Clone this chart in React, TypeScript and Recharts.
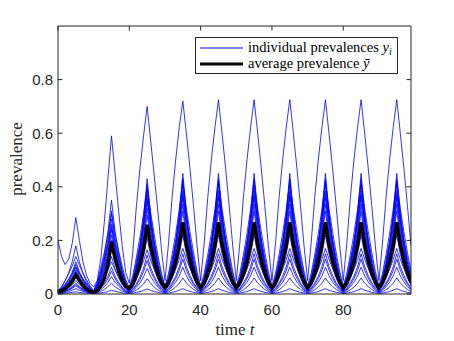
import React from 'react';
import { LineChart, Line, XAxis, YAxis, Legend, Label } from 'recharts';

// time grid of the simulation output (t = 0 .. 99)
const time = Array.from({ length: 100 }, (_, i) => i);

// individual prevalences (one row per 10-unit season)
const y01 = [
  0.2, 0.14, 0.11, 0.13, 0.19, 0.285, 0.2, 0.12, 0.07, 0.04, 0.026,
  0.05, 0.13, 0.27, 0.43, 0.59, 0.45, 0.31, 0.18, 0.08, 0.04,
  0.16, 0.33, 0.47, 0.59, 0.7, 0.57, 0.44, 0.31, 0.17, 0.05,
  0.19, 0.36, 0.5, 0.62, 0.72, 0.6, 0.47, 0.33, 0.18, 0.05,
  0.19, 0.36, 0.5, 0.62, 0.725, 0.6, 0.47, 0.33, 0.18, 0.05,
  0.19, 0.36, 0.5, 0.62, 0.725, 0.6, 0.47, 0.33, 0.18, 0.05,
  0.19, 0.36, 0.5, 0.62, 0.725, 0.6, 0.47, 0.33, 0.18, 0.05,
  0.19, 0.36, 0.5, 0.62, 0.725, 0.6, 0.47, 0.33, 0.18, 0.05,
  0.19, 0.36, 0.5, 0.62, 0.725, 0.6, 0.47, 0.33, 0.18, 0.05,
  0.19, 0.36, 0.5, 0.62, 0.725, 0.6, 0.47, 0.33, 0.18,
];
const y02 = [
  0.012, 0.025, 0.049, 0.079, 0.121, 0.18, 0.12, 0.078, 0.045, 0.024, 0.01,
  0.037, 0.085, 0.146, 0.231, 0.35, 0.234, 0.153, 0.088, 0.041, 0.018,
  0.051, 0.109, 0.183, 0.286, 0.43, 0.29, 0.191, 0.113, 0.055, 0.02,
  0.054, 0.115, 0.192, 0.3, 0.45, 0.304, 0.201, 0.119, 0.059, 0.02,
  0.054, 0.115, 0.192, 0.3, 0.45, 0.304, 0.201, 0.119, 0.059, 0.02,
  0.054, 0.115, 0.192, 0.3, 0.45, 0.304, 0.201, 0.119, 0.059, 0.02,
  0.054, 0.115, 0.192, 0.3, 0.45, 0.304, 0.201, 0.119, 0.059, 0.02,
  0.054, 0.115, 0.192, 0.3, 0.45, 0.304, 0.201, 0.119, 0.059, 0.02,
  0.054, 0.115, 0.192, 0.3, 0.45, 0.304, 0.201, 0.119, 0.059, 0.02,
  0.054, 0.115, 0.192, 0.3, 0.45, 0.304, 0.201, 0.119, 0.059,
];
const y03 = [
  0.01, 0.019, 0.034, 0.054, 0.082, 0.12, 0.083, 0.056, 0.035, 0.02, 0.008,
  0.032, 0.074, 0.129, 0.204, 0.31, 0.207, 0.135, 0.077, 0.035, 0.017,
  0.048, 0.103, 0.174, 0.272, 0.41, 0.276, 0.182, 0.107, 0.052, 0.02,
  0.053, 0.11, 0.184, 0.287, 0.43, 0.291, 0.192, 0.114, 0.057, 0.02,
  0.053, 0.11, 0.184, 0.287, 0.43, 0.291, 0.192, 0.114, 0.057, 0.02,
  0.053, 0.11, 0.184, 0.287, 0.43, 0.291, 0.192, 0.114, 0.057, 0.02,
  0.053, 0.11, 0.184, 0.287, 0.43, 0.291, 0.192, 0.114, 0.057, 0.02,
  0.053, 0.11, 0.184, 0.287, 0.43, 0.291, 0.192, 0.114, 0.057, 0.02,
  0.053, 0.11, 0.184, 0.287, 0.43, 0.291, 0.192, 0.114, 0.057, 0.02,
  0.053, 0.11, 0.184, 0.287, 0.43, 0.291, 0.192, 0.114, 0.057,
];
const y04 = [
  0.01, 0.018, 0.032, 0.05, 0.075, 0.11, 0.076, 0.052, 0.033, 0.019, 0.008,
  0.03, 0.068, 0.117, 0.185, 0.28, 0.188, 0.122, 0.07, 0.032, 0.016,
  0.046, 0.098, 0.166, 0.259, 0.39, 0.263, 0.173, 0.102, 0.05, 0.02,
  0.051, 0.106, 0.176, 0.274, 0.41, 0.277, 0.184, 0.11, 0.055, 0.02,
  0.051, 0.106, 0.176, 0.274, 0.41, 0.277, 0.184, 0.11, 0.055, 0.02,
  0.051, 0.106, 0.176, 0.274, 0.41, 0.277, 0.184, 0.11, 0.055, 0.02,
  0.051, 0.106, 0.176, 0.274, 0.41, 0.277, 0.184, 0.11, 0.055, 0.02,
  0.051, 0.106, 0.176, 0.274, 0.41, 0.277, 0.184, 0.11, 0.055, 0.02,
  0.051, 0.106, 0.176, 0.274, 0.41, 0.277, 0.184, 0.11, 0.055, 0.02,
  0.051, 0.106, 0.176, 0.274, 0.41, 0.277, 0.184, 0.11, 0.055,
];
const y05 = [
  0.008, 0.015, 0.028, 0.045, 0.068, 0.1, 0.069, 0.047, 0.029, 0.016, 0.007,
  0.027, 0.063, 0.108, 0.171, 0.26, 0.174, 0.113, 0.065, 0.03, 0.015,
  0.043, 0.093, 0.157, 0.246, 0.37, 0.249, 0.164, 0.097, 0.047, 0.018,
  0.047, 0.099, 0.165, 0.257, 0.385, 0.26, 0.172, 0.102, 0.051, 0.018,
  0.047, 0.099, 0.165, 0.257, 0.385, 0.26, 0.172, 0.102, 0.051, 0.018,
  0.047, 0.099, 0.165, 0.257, 0.385, 0.26, 0.172, 0.102, 0.051, 0.018,
  0.047, 0.099, 0.165, 0.257, 0.385, 0.26, 0.172, 0.102, 0.051, 0.018,
  0.047, 0.099, 0.165, 0.257, 0.385, 0.26, 0.172, 0.102, 0.051, 0.018,
  0.047, 0.099, 0.165, 0.257, 0.385, 0.26, 0.172, 0.102, 0.051, 0.018,
  0.047, 0.099, 0.165, 0.257, 0.385, 0.26, 0.172, 0.102, 0.051,
];
const y06 = [
  0.008, 0.015, 0.026, 0.041, 0.061, 0.09, 0.062, 0.042, 0.026, 0.015, 0.006,
  0.025, 0.057, 0.1, 0.158, 0.24, 0.16, 0.104, 0.06, 0.028, 0.015,
  0.041, 0.088, 0.147, 0.23, 0.345, 0.233, 0.154, 0.091, 0.045, 0.018,
  0.045, 0.093, 0.155, 0.24, 0.36, 0.244, 0.162, 0.097, 0.049, 0.018,
  0.045, 0.093, 0.155, 0.24, 0.36, 0.244, 0.162, 0.097, 0.049, 0.018,
  0.045, 0.093, 0.155, 0.24, 0.36, 0.244, 0.162, 0.097, 0.049, 0.018,
  0.045, 0.093, 0.155, 0.24, 0.36, 0.244, 0.162, 0.097, 0.049, 0.018,
  0.045, 0.093, 0.155, 0.24, 0.36, 0.244, 0.162, 0.097, 0.049, 0.018,
  0.045, 0.093, 0.155, 0.24, 0.36, 0.244, 0.162, 0.097, 0.049, 0.018,
  0.045, 0.093, 0.155, 0.24, 0.36, 0.244, 0.162, 0.097, 0.049,
];
const y07 = [
  0.006, 0.012, 0.022, 0.036, 0.054, 0.08, 0.055, 0.037, 0.023, 0.013, 0.005,
  0.022, 0.052, 0.091, 0.145, 0.22, 0.147, 0.095, 0.055, 0.026, 0.014,
  0.038, 0.081, 0.136, 0.213, 0.32, 0.216, 0.143, 0.084, 0.042, 0.016,
  0.042, 0.086, 0.144, 0.223, 0.335, 0.227, 0.15, 0.089, 0.045, 0.016,
  0.042, 0.086, 0.144, 0.223, 0.335, 0.227, 0.15, 0.089, 0.045, 0.016,
  0.042, 0.086, 0.144, 0.223, 0.335, 0.227, 0.15, 0.089, 0.045, 0.016,
  0.042, 0.086, 0.144, 0.223, 0.335, 0.227, 0.15, 0.089, 0.045, 0.016,
  0.042, 0.086, 0.144, 0.223, 0.335, 0.227, 0.15, 0.089, 0.045, 0.016,
  0.042, 0.086, 0.144, 0.223, 0.335, 0.227, 0.15, 0.089, 0.045, 0.016,
  0.042, 0.086, 0.144, 0.223, 0.335, 0.227, 0.15, 0.089, 0.045,
];
const y08 = [
  0.006, 0.011, 0.02, 0.032, 0.048, 0.07, 0.048, 0.033, 0.021, 0.012, 0.005,
  0.021, 0.048, 0.083, 0.132, 0.2, 0.134, 0.087, 0.05, 0.024, 0.013,
  0.036, 0.075, 0.126, 0.196, 0.295, 0.199, 0.131, 0.078, 0.039, 0.016,
  0.04, 0.081, 0.134, 0.207, 0.31, 0.21, 0.139, 0.084, 0.042, 0.016,
  0.04, 0.081, 0.134, 0.207, 0.31, 0.21, 0.139, 0.084, 0.042, 0.016,
  0.04, 0.081, 0.134, 0.207, 0.31, 0.21, 0.139, 0.084, 0.042, 0.016,
  0.04, 0.081, 0.134, 0.207, 0.31, 0.21, 0.139, 0.084, 0.042, 0.016,
  0.04, 0.081, 0.134, 0.207, 0.31, 0.21, 0.139, 0.084, 0.042, 0.016,
  0.04, 0.081, 0.134, 0.207, 0.31, 0.21, 0.139, 0.084, 0.042, 0.016,
  0.04, 0.081, 0.134, 0.207, 0.31, 0.21, 0.139, 0.084, 0.042,
];
const y09 = [
  0.005, 0.009, 0.015, 0.023, 0.034, 0.05, 0.035, 0.024, 0.015, 0.009, 0.004,
  0.015, 0.034, 0.058, 0.092, 0.14, 0.094, 0.061, 0.035, 0.017, 0.01,
  0.026, 0.054, 0.09, 0.14, 0.21, 0.142, 0.094, 0.056, 0.028, 0.012,
  0.029, 0.058, 0.095, 0.147, 0.22, 0.149, 0.099, 0.06, 0.031, 0.012,
  0.029, 0.058, 0.095, 0.147, 0.22, 0.149, 0.099, 0.06, 0.031, 0.012,
  0.029, 0.058, 0.095, 0.147, 0.22, 0.149, 0.099, 0.06, 0.031, 0.012,
  0.029, 0.058, 0.095, 0.147, 0.22, 0.149, 0.099, 0.06, 0.031, 0.012,
  0.029, 0.058, 0.095, 0.147, 0.22, 0.149, 0.099, 0.06, 0.031, 0.012,
  0.029, 0.058, 0.095, 0.147, 0.22, 0.149, 0.099, 0.06, 0.031, 0.012,
  0.029, 0.058, 0.095, 0.147, 0.22, 0.149, 0.099, 0.06, 0.031,
];
const y10 = [
  0.004, 0.007, 0.012, 0.018, 0.027, 0.04, 0.028, 0.019, 0.012, 0.007, 0.003,
  0.011, 0.024, 0.042, 0.066, 0.1, 0.067, 0.044, 0.025, 0.012, 0.008,
  0.019, 0.038, 0.063, 0.097, 0.145, 0.098, 0.066, 0.04, 0.021, 0.01,
  0.021, 0.041, 0.066, 0.101, 0.15, 0.102, 0.069, 0.042, 0.023, 0.01,
  0.021, 0.041, 0.066, 0.101, 0.15, 0.102, 0.069, 0.042, 0.023, 0.01,
  0.021, 0.041, 0.066, 0.101, 0.15, 0.102, 0.069, 0.042, 0.023, 0.01,
  0.021, 0.041, 0.066, 0.101, 0.15, 0.102, 0.069, 0.042, 0.023, 0.01,
  0.021, 0.041, 0.066, 0.101, 0.15, 0.102, 0.069, 0.042, 0.023, 0.01,
  0.021, 0.041, 0.066, 0.101, 0.15, 0.102, 0.069, 0.042, 0.023, 0.01,
  0.021, 0.041, 0.066, 0.101, 0.15, 0.102, 0.069, 0.042, 0.023,
];
const y11 = [
  0.004, 0.006, 0.011, 0.016, 0.024, 0.035, 0.025, 0.017, 0.011, 0.006, 0.003,
  0.01, 0.021, 0.036, 0.056, 0.085, 0.057, 0.037, 0.022, 0.011, 0.007,
  0.016, 0.033, 0.054, 0.084, 0.125, 0.085, 0.057, 0.034, 0.018, 0.008,
  0.018, 0.035, 0.057, 0.087, 0.13, 0.089, 0.059, 0.036, 0.019, 0.008,
  0.018, 0.035, 0.057, 0.087, 0.13, 0.089, 0.059, 0.036, 0.019, 0.008,
  0.018, 0.035, 0.057, 0.087, 0.13, 0.089, 0.059, 0.036, 0.019, 0.008,
  0.018, 0.035, 0.057, 0.087, 0.13, 0.089, 0.059, 0.036, 0.019, 0.008,
  0.018, 0.035, 0.057, 0.087, 0.13, 0.089, 0.059, 0.036, 0.019, 0.008,
  0.018, 0.035, 0.057, 0.087, 0.13, 0.089, 0.059, 0.036, 0.019, 0.008,
  0.018, 0.035, 0.057, 0.087, 0.13, 0.089, 0.059, 0.036, 0.019,
];
const y12 = [
  0.003, 0.005, 0.009, 0.014, 0.021, 0.03, 0.021, 0.014, 0.009, 0.005, 0.002,
  0.007, 0.016, 0.027, 0.043, 0.065, 0.044, 0.029, 0.017, 0.009, 0.005,
  0.012, 0.025, 0.041, 0.064, 0.095, 0.065, 0.043, 0.026, 0.013, 0.006,
  0.014, 0.027, 0.044, 0.067, 0.1, 0.068, 0.045, 0.028, 0.014, 0.006,
  0.014, 0.027, 0.044, 0.067, 0.1, 0.068, 0.045, 0.028, 0.014, 0.006,
  0.014, 0.027, 0.044, 0.067, 0.1, 0.068, 0.045, 0.028, 0.014, 0.006,
  0.014, 0.027, 0.044, 0.067, 0.1, 0.068, 0.045, 0.028, 0.014, 0.006,
  0.014, 0.027, 0.044, 0.067, 0.1, 0.068, 0.045, 0.028, 0.014, 0.006,
  0.014, 0.027, 0.044, 0.067, 0.1, 0.068, 0.045, 0.028, 0.014, 0.006,
  0.014, 0.027, 0.044, 0.067, 0.1, 0.068, 0.045, 0.028, 0.014,
];
const y13 = [
  0.002, 0.003, 0.006, 0.009, 0.014, 0.02, 0.014, 0.01, 0.006, 0.004, 0.002,
  0.005, 0.01, 0.017, 0.027, 0.04, 0.027, 0.018, 0.011, 0.006, 0.003,
  0.007, 0.015, 0.025, 0.038, 0.057, 0.039, 0.026, 0.015, 0.008, 0.004,
  0.008, 0.016, 0.026, 0.04, 0.06, 0.041, 0.028, 0.017, 0.009, 0.004,
  0.008, 0.016, 0.026, 0.04, 0.06, 0.041, 0.028, 0.017, 0.009, 0.004,
  0.008, 0.016, 0.026, 0.04, 0.06, 0.041, 0.028, 0.017, 0.009, 0.004,
  0.008, 0.016, 0.026, 0.04, 0.06, 0.041, 0.028, 0.017, 0.009, 0.004,
  0.008, 0.016, 0.026, 0.04, 0.06, 0.041, 0.028, 0.017, 0.009, 0.004,
  0.008, 0.016, 0.026, 0.04, 0.06, 0.041, 0.028, 0.017, 0.009, 0.004,
  0.008, 0.016, 0.026, 0.04, 0.06, 0.041, 0.028, 0.017, 0.009,
];
const y14 = [
  0.001, 0.002, 0.003, 0.004, 0.006, 0.008, 0.006, 0.004, 0.003, 0.002, 0.001,
  0.002, 0.004, 0.006, 0.009, 0.014, 0.01, 0.007, 0.004, 0.002, 0.002,
  0.003, 0.006, 0.009, 0.013, 0.019, 0.013, 0.009, 0.006, 0.003, 0.002,
  0.003, 0.006, 0.009, 0.014, 0.02, 0.014, 0.01, 0.006, 0.004, 0.002,
  0.003, 0.006, 0.009, 0.014, 0.02, 0.014, 0.01, 0.006, 0.004, 0.002,
  0.003, 0.006, 0.009, 0.014, 0.02, 0.014, 0.01, 0.006, 0.004, 0.002,
  0.003, 0.006, 0.009, 0.014, 0.02, 0.014, 0.01, 0.006, 0.004, 0.002,
  0.003, 0.006, 0.009, 0.014, 0.02, 0.014, 0.01, 0.006, 0.004, 0.002,
  0.003, 0.006, 0.009, 0.014, 0.02, 0.014, 0.01, 0.006, 0.004, 0.002,
  0.003, 0.006, 0.009, 0.014, 0.02, 0.014, 0.01, 0.006, 0.004,
];
const y15 = [
  0.012, 0.027, 0.05, 0.076, 0.105, 0.14, 0.107, 0.078, 0.053, 0.03, 0.012,
  0.047, 0.098, 0.156, 0.222, 0.3, 0.225, 0.162, 0.104, 0.052, 0.025,
  0.07, 0.138, 0.213, 0.299, 0.4, 0.303, 0.22, 0.145, 0.078, 0.03,
  0.077, 0.147, 0.225, 0.315, 0.42, 0.319, 0.233, 0.155, 0.085, 0.03,
  0.077, 0.147, 0.225, 0.315, 0.42, 0.319, 0.233, 0.155, 0.085, 0.03,
  0.077, 0.147, 0.225, 0.315, 0.42, 0.319, 0.233, 0.155, 0.085, 0.03,
  0.077, 0.147, 0.225, 0.315, 0.42, 0.319, 0.233, 0.155, 0.085, 0.03,
  0.077, 0.147, 0.225, 0.315, 0.42, 0.319, 0.233, 0.155, 0.085, 0.03,
  0.077, 0.147, 0.225, 0.315, 0.42, 0.319, 0.233, 0.155, 0.085, 0.03,
  0.077, 0.147, 0.225, 0.315, 0.42, 0.319, 0.233, 0.155, 0.085,
];
const y16 = [
  0.01, 0.021, 0.037, 0.055, 0.076, 0.1, 0.077, 0.057, 0.039, 0.023, 0.01,
  0.039, 0.082, 0.13, 0.185, 0.25, 0.188, 0.135, 0.087, 0.044, 0.022,
  0.062, 0.122, 0.189, 0.265, 0.355, 0.268, 0.195, 0.128, 0.069, 0.025,
  0.066, 0.129, 0.198, 0.277, 0.37, 0.28, 0.204, 0.135, 0.073, 0.025,
  0.066, 0.129, 0.198, 0.277, 0.37, 0.28, 0.204, 0.135, 0.073, 0.025,
  0.066, 0.129, 0.198, 0.277, 0.37, 0.28, 0.204, 0.135, 0.073, 0.025,
  0.066, 0.129, 0.198, 0.277, 0.37, 0.28, 0.204, 0.135, 0.073, 0.025,
  0.066, 0.129, 0.198, 0.277, 0.37, 0.28, 0.204, 0.135, 0.073, 0.025,
  0.066, 0.129, 0.198, 0.277, 0.37, 0.28, 0.204, 0.135, 0.073, 0.025,
  0.066, 0.129, 0.198, 0.277, 0.37, 0.28, 0.204, 0.135, 0.073,
];
const y17 = [
  0.006, 0.012, 0.021, 0.033, 0.045, 0.06, 0.046, 0.034, 0.023, 0.013, 0.005,
  0.019, 0.04, 0.063, 0.089, 0.12, 0.09, 0.065, 0.042, 0.021, 0.012,
  0.03, 0.058, 0.089, 0.124, 0.165, 0.125, 0.092, 0.061, 0.033, 0.015,
  0.034, 0.062, 0.093, 0.128, 0.17, 0.13, 0.096, 0.065, 0.037, 0.015,
  0.034, 0.062, 0.093, 0.128, 0.17, 0.13, 0.096, 0.065, 0.037, 0.015,
  0.034, 0.062, 0.093, 0.128, 0.17, 0.13, 0.096, 0.065, 0.037, 0.015,
  0.034, 0.062, 0.093, 0.128, 0.17, 0.13, 0.096, 0.065, 0.037, 0.015,
  0.034, 0.062, 0.093, 0.128, 0.17, 0.13, 0.096, 0.065, 0.037, 0.015,
  0.034, 0.062, 0.093, 0.128, 0.17, 0.13, 0.096, 0.065, 0.037, 0.015,
  0.034, 0.062, 0.093, 0.128, 0.17, 0.13, 0.096, 0.065, 0.037,
];

// average prevalence (thick black curve)
const avg = [
  0.008, 0.012, 0.02, 0.032, 0.048, 0.072, 0.05, 0.032, 0.018, 0.01, 0.006,
  0.012, 0.03, 0.06, 0.11, 0.195, 0.132, 0.085, 0.05, 0.03, 0.02,
  0.038, 0.07, 0.113, 0.17, 0.258, 0.178, 0.12, 0.075, 0.042, 0.024,
  0.042, 0.076, 0.12, 0.182, 0.268, 0.184, 0.125, 0.079, 0.044, 0.022,
  0.042, 0.076, 0.12, 0.182, 0.268, 0.184, 0.125, 0.079, 0.044, 0.022,
  0.042, 0.076, 0.12, 0.182, 0.268, 0.184, 0.125, 0.079, 0.044, 0.022,
  0.042, 0.076, 0.12, 0.182, 0.268, 0.184, 0.125, 0.079, 0.044, 0.022,
  0.042, 0.076, 0.12, 0.182, 0.268, 0.184, 0.125, 0.079, 0.044, 0.022,
  0.042, 0.076, 0.12, 0.182, 0.268, 0.184, 0.125, 0.079, 0.044, 0.022,
  0.042, 0.076, 0.12, 0.182, 0.268, 0.184, 0.125, 0.079, 0.044,
];

const xTicks = [0, 20, 40, 60, 80];
const yTicks = [0, 0.2, 0.4, 0.6, 0.8];

const blueSeries = [y01, y02, y03, y04, y05, y06, y07, y08, y09, y10, y11, y12, y13, y14, y15, y16, y17];
const blueKeys = blueSeries.map((_, k) => `y${k + 1}`);

const data = time.map((t, i) => {
  const row: any = { t, avg: avg[i] };
  blueSeries.forEach((s, k) => {
    row[blueKeys[k]] = s[i];
  });
  return row;
});

const AXIS = '#262626';
const SANS = '"Liberation Sans", Arial, Helvetica, sans-serif';
const SERIF = '"Liberation Serif", "Times New Roman", serif';
const TICK = 4.5;

// matlab-style ticks: short marks pointing into the box
const BottomTick = ({ x, y, payload }: any) => (
  <g>
    <line x1={x} x2={x} y1={y} y2={y - TICK} stroke={AXIS} />
    <text x={x} y={y + 21} textAnchor="middle" fontSize={15} fill={AXIS} fontFamily={SANS}>
      {payload.value}
    </text>
  </g>
);
const LeftTick = ({ x, y, payload }: any) => (
  <g>
    <line x1={x} x2={x + TICK} y1={y} y2={y} stroke={AXIS} />
    <text x={x - 5} y={y + 5.3} textAnchor="end" fontSize={15} fill={AXIS} fontFamily={SANS}>
      {payload.value}
    </text>
  </g>
);
const TopTick = ({ x, y }: any) => <line x1={x} x2={x} y1={y} y2={y + TICK} stroke={AXIS} />;
const RightTick = ({ x, y }: any) => <line x1={x} x2={x - TICK} y1={y} y2={y} stroke={AXIS} />;

const LegendBox = () => (
  <svg width={203} height={37} style={{ display: 'block' }}>
    <rect x={0.5} y={0.5} width={202} height={36} fill="#fff" stroke={AXIS} />
    <line x1={5} x2={48} y1={11} y2={11} stroke="#0000ff" strokeWidth={1} />
    <text x={53} y={14.5} fontSize={14.5} fill="#000" fontFamily={SERIF}>
      individual prevalences <tspan fontStyle="italic">y</tspan>
      <tspan fontStyle="italic" fontSize={10} dy={3}>i</tspan>
    </text>
    <line x1={5} x2={48} y1={27} y2={27} stroke="#000" strokeWidth={3} />
    <text x={53} y={31} fontSize={14.5} fill="#000" fontFamily={SERIF}>
      average prevalence <tspan fontStyle="italic">ȳ</tspan>
    </text>
  </svg>
);

const App = () => {
  return (
    <LineChart width={446} height={333} data={data} margin={{ top: 17, right: 42, bottom: 17, left: 10 }}>
      <XAxis
        dataKey="t"
        type="number"
        domain={[0, 99]}
        allowDataOverflow
        ticks={xTicks}
        interval={0}
        height={30}
        tickSize={0}
        tickMargin={0}
        tickLine={false}
        tick={<BottomTick />}
        axisLine={{ stroke: AXIS }}
      >
        <Label
          content={() => (
            <text x={227} y={327} textAnchor="middle" fontSize={17} fill={AXIS} fontFamily={SERIF}>
              time <tspan fontStyle="italic">t</tspan>
            </text>
          )}
        />
      </XAxis>
      <XAxis
        xAxisId="top"
        orientation="top"
        dataKey="t"
        type="number"
        domain={[0, 99]}
        allowDataOverflow
        ticks={xTicks}
        interval={0}
        height={1}
        tickSize={0}
        tickMargin={0}
        tickLine={false}
        tick={<TopTick />}
        axisLine={{ stroke: AXIS }}
      />
      <YAxis
        type="number"
        domain={[0, 1]}
        allowDataOverflow
        ticks={yTicks}
        interval={0}
        width={40}
        tickSize={0}
        tickMargin={0}
        tickLine={false}
        tick={<LeftTick />}
        axisLine={{ stroke: AXIS }}
      >
        <Label
          content={() => (
            <text
              transform="translate(14,151) rotate(-90)"
              textAnchor="middle"
              fontSize={17}
              fill={AXIS}
              fontFamily={SERIF}
            >
              prevalence
            </text>
          )}
        />
      </YAxis>
      <YAxis
        yAxisId="right"
        orientation="right"
        type="number"
        domain={[0, 1]}
        allowDataOverflow
        ticks={yTicks}
        interval={0}
        width={1}
        tickSize={0}
        tickMargin={0}
        tickLine={false}
        tick={<RightTick />}
        axisLine={{ stroke: AXIS }}
      />
      <Legend
        verticalAlign="middle"
        layout="horizontal"
        wrapperStyle={{ top: 29, left: 187, width: 203, height: 37 }}
        content={() => <LegendBox />}
      />
      {/* invisible series so the mirrored top/right axes get drawn */}
      <Line
        xAxisId="top"
        yAxisId="right"
        dataKey="avg"
        stroke="none"
        dot={false}
        activeDot={false}
        legendType="none"
        isAnimationActive={false}
      />
      {blueKeys.map((k) => (
        <Line
          key={k}
          dataKey={k}
          type="linear"
          stroke="#0000ff"
          strokeWidth={0.8}
          dot={false}
          activeDot={false}
          isAnimationActive={false}
        />
      ))}
      <Line
        dataKey="avg"
        type="linear"
        stroke="#000"
        strokeWidth={3.5}
        dot={false}
        activeDot={false}
        isAnimationActive={false}
      />
    </LineChart>
  );
};

export default App;
